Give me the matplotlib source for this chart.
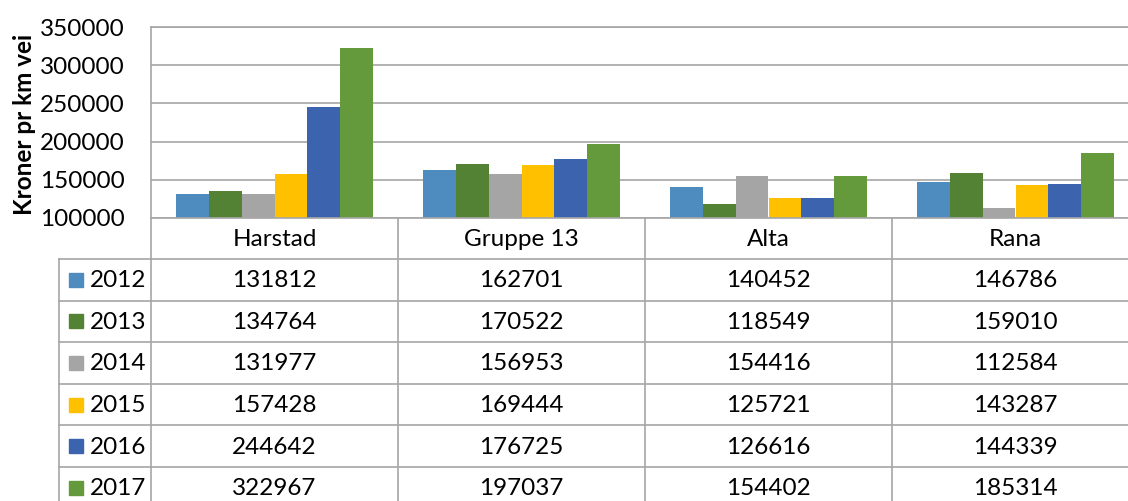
import matplotlib
matplotlib.use("Agg")
import matplotlib.pyplot as plt
import numpy as np

categories = ["Harstad", "Gruppe 13", "Alta", "Rana"]
years = ["2012", "2013", "2014", "2015", "2016", "2017"]
v2012 = [131812, 162701, 140452, 146786]
v2013 = [134764, 170522, 118549, 159010]
v2014 = [131977, 156953, 154416, 112584]
v2015 = [157428, 169444, 125721, 143287]
v2016 = [244642, 176725, 126616, 144339]
v2017 = [322967, 197037, 154402, 185314]
series = [v2012, v2013, v2014, v2015, v2016, v2017]
colors = ["#4E8BBE", "#548235", "#A5A5A5", "#FFC000", "#3C63AD", "#64993C"]
yticks = [100000, 150000, 200000, 250000, 300000, 350000]
ylabel = "Kroner pr km vei"

plt.rcParams['font.family'] = ['Lato', 'DejaVu Sans']
W, H = 1128, 501
fig = plt.figure(figsize=(W / 100, H / 100), dpi=100)

grid_c = "#A6A6A6"
FS = 17.5

# layout in pixels
x0, col_w = 151, 247
top_px, base_px = 27, 218
ax = fig.add_axes([x0 / W, (H - base_px) / H, (4 * col_w) / W, (base_px - top_px) / H])
ax.set_xlim(-0.5, 3.5)
ax.set_ylim(yticks[0], yticks[-1])
bw = 1 / 7.5
x = np.arange(len(categories))
for i, (vals, c) in enumerate(zip(series, colors)):
    ax.bar(x + (i - 2.5) * bw, np.array(vals), width=bw, color=c, bottom=0,
           edgecolor="none", zorder=3)
ax.set_yticks(yticks)
ax.set_yticklabels([str(t) for t in yticks], fontsize=FS)
ax.tick_params(axis='y', length=0, pad=19)
ax.set_xticks([])
ax.yaxis.grid(True, color=grid_c, lw=1.2, zorder=0)
for s in ["right", "bottom"]:
    ax.spines[s].set_visible(False)
ax.spines["left"].set_color(grid_c)
ax.spines["top"].set_color(grid_c)
ax.spines["left"].set_linewidth(1.2)
ax.spines["top"].set_linewidth(1.2)
fig.text(25 / W, 1 - 124 / H, ylabel, rotation=90, ha="center", va="center",
         fontsize=17.5, fontweight="bold")

# data table in pixel coordinates
tax = fig.add_axes([0, 0, 1, 1])
tax.set_xlim(0, W)
tax.set_ylim(H, 0)
tax.axis("off")
row_h = 41.6
hdr_bot = 259
leg_x = 59
right = x0 + 4 * col_w
lkw = dict(color=grid_c, lw=1.2)
# header row
tax.plot([x0, right], [base_px, base_px], **lkw)
tax.plot([x0, right], [hdr_bot, hdr_bot], **lkw)
for j in range(5):
    tax.plot([x0 + j * col_w] * 2, [base_px, H + 5], **lkw)
tax.plot([leg_x, leg_x], [hdr_bot, H + 5], **lkw)
tax.plot([leg_x, x0], [hdr_bot, hdr_bot], **lkw)
for j, cat in enumerate(categories):
    tax.text(x0 + (j + 0.5) * col_w, (base_px + hdr_bot) / 2 + 1, cat,
             ha="center", va="center", fontsize=FS)
for i, (yr, vals, c) in enumerate(zip(years, series, colors)):
    y_top = hdr_bot + i * row_h
    y_bot = y_top + row_h
    yc = (y_top + y_bot) / 2
    tax.plot([leg_x, right], [y_bot, y_bot], **lkw)
    tax.add_patch(plt.Rectangle((69, yc - 7), 14, 14, color=c))
    tax.text(90, yc + 1, yr, ha="left", va="center", fontsize=FS)
    for j, v in enumerate(vals):
        tax.text(x0 + (j + 0.5) * col_w, yc + 1, str(v), ha="center",
                 va="center", fontsize=FS)

fig.savefig("out.png", dpi=100)
